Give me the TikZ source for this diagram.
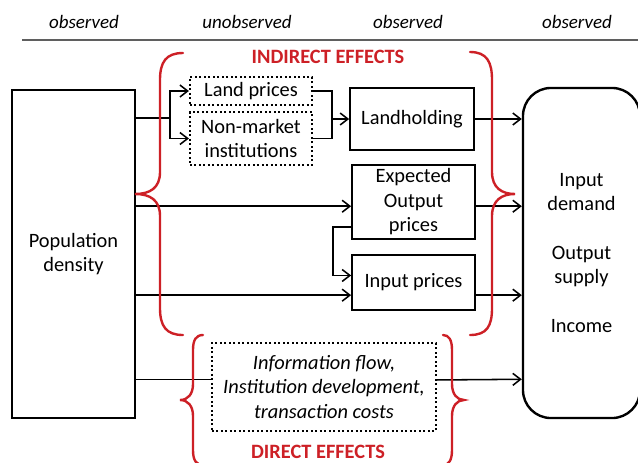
\documentclass[tikz,border=0pt]{standalone}
\usepackage{fontspec}
\setmainfont{Carlito}
\usetikzlibrary{positioning, arrows.meta, calc}
\definecolor{BraceRed}{RGB}{205,32,38}
\definecolor{RuleGray}{RGB}{95,95,95}
\newcommand{\effectlabel}[1]{\textcolor{BraceRed}{\textbf{#1}}}
\tikzstyle{arrow} = [line width=1.1pt, -{Straight Barb[length=5.5pt,width=8.5pt]}]
\tikzstyle{link} = [line width=1.1pt]
\tikzstyle{brace} = [line width=1.7pt, BraceRed, line cap=round]
\tikzset{
  box/.style={draw, line width=1.2pt, align=center, inner sep=1.5pt, font=\fontsize{14.5}{17.4}\selectfont},
  hidden box/.style={box, dotted, line width=1.5pt},
  outcome/.style={box, rounded corners=0.7cm, line width=1.7pt},
  header/.style={font=\fontsize{13.5}{16}\selectfont\itshape},
  effect/.style={font=\fontsize{14.5}{17.4}\selectfont}
}

\begin{document}
\begin{tikzpicture}[x=0.025cm, y=-0.025cm]
  \useasboundingbox (0,0) rectangle (638,462);

  % Column headers
  \node[header] (hpop) at (84,22) {observed};
  \node[header] (hhidden) at (247,22) {unobserved};
  \node[header] (hmid) at (408,22) {observed};
  \node[header] (hout) at (577,22) {observed};
  \draw[RuleGray, line width=0.8pt] (22,40) -- (638,40);

  % Boxes
  \node[box, minimum width=3.075cm, minimum height=8.2cm] (pop) at (73.5,254) {Population\\density};
  \node[hidden box, minimum width=3.05cm, minimum height=0.7cm] (land) at (251,91) {Land prices};
  \node[hidden box, minimum width=3.05cm, minimum height=1.325cm] (nonmkt) at (251,138.5) {Non-market\\institutions};
  \node[box, minimum width=3.1cm, minimum height=1.55cm] (landh) at (412,119) {Landholding};
  \node[box, minimum width=3.075cm, minimum height=1.85cm, inner sep=0.5pt] (expout) at (413.5,202) {Expected\\Output\\prices};
  \node[box, minimum width=3.075cm, minimum height=1.375cm] (inputp) at (413.5,282.5) {Input prices};
  \node[hidden box, minimum width=5.6cm, minimum height=2.2cm, font=\fontsize{14.5}{17.4}\selectfont\itshape] (info) at (324,387) {Information flow,\\Institution development,\\transaction costs};
  \node[outcome, minimum width=2.925cm, minimum height=8.25cm] (outc) at (581.5,253) {Input\\demand\\[17.4pt]Output\\supply\\[17.4pt]Income};

  % Land channel
  \coordinate (split) at (170,118);
  \coordinate (merge) at (332,119);
  \draw[link] (pop.east |- split) -- (split);
  \draw[arrow] (split) |- (land.west);
  \draw[arrow] (split) |- (nonmkt.west);
  \draw[link] (land.east) -| (merge);
  \draw[link] (nonmkt.east) -| (merge);
  \draw[arrow] (merge) -- (landh.west);

  % Price channel
  \coordinate (expin) at ([yshift=-3pt]expout.west);
  \coordinate (inpin) at ([yshift=-9pt]inputp.west);
  \coordinate (elbow) at (333,227);
  \draw[arrow] (pop.east |- expin) -- (expin);
  \draw[arrow] (expout.west |- elbow) -- (elbow) |- ([yshift=5pt]inputp.west);
  \draw[arrow] (pop.east |- inpin) -- (inpin);

  % Direct channel
  \coordinate (infoin) at ([yshift=5.5pt]info.west);
  \draw[link] (pop.east |- infoin) -- (infoin);

  % Into outcomes
  \draw[arrow] (landh.east) -- (landh.east -| outc.west);
  \draw[arrow] ([yshift=-3pt]expout.east) -- ([yshift=-3pt]expout.east -| outc.west);
  \draw[arrow] ([yshift=-9pt]inputp.east) -- ([yshift=-9pt]inputp.east -| outc.west);
  \draw[arrow] ([yshift=5pt]info.east) -- ([yshift=5.5pt]info.east -| outc.west);

  % Indirect effects braces
  \draw[brace] (183,53) .. controls (166,53) and (160,62) .. (160,80) -- (160,172)
    .. controls (160,188) and (150,194) .. (135,194)
    .. controls (150,194) and (160,200) .. (160,216) -- (160,308)
    .. controls (160,326) and (166,335) .. (183,335);
  \draw[brace] (470,52) .. controls (487,52) and (492,62) .. (492,80) -- (492,172)
    .. controls (492,188) and (502,194) .. (515,194)
    .. controls (502,194) and (492,200) .. (492,216) -- (492,308)
    .. controls (492,326) and (487,335) .. (470,335);
  \node[effect] (indirect) at (328,57) {\effectlabel{INDIRECT EFFECTS}};

  % Direct effects braces
  \draw[brace] (203,335) .. controls (196,335) and (193,340) .. (193,350) -- (193,384)
    .. controls (193,394) and (188,400) .. (180,400)
    .. controls (188,400) and (193,406) .. (193,416) -- (193,450)
    .. controls (193,460) and (196,465) .. (203,465);
  \draw[brace] (443,335) .. controls (449,335) and (452,340) .. (452,350) -- (452,384)
    .. controls (452,394) and (457,400) .. (464,400)
    .. controls (457,400) and (452,406) .. (452,416) -- (452,450)
    .. controls (452,460) and (449,465) .. (443,465);
  \node[effect] (direct) at (318,452) {\effectlabel{DIRECT EFFECTS}};
\end{tikzpicture}
\end{document}
